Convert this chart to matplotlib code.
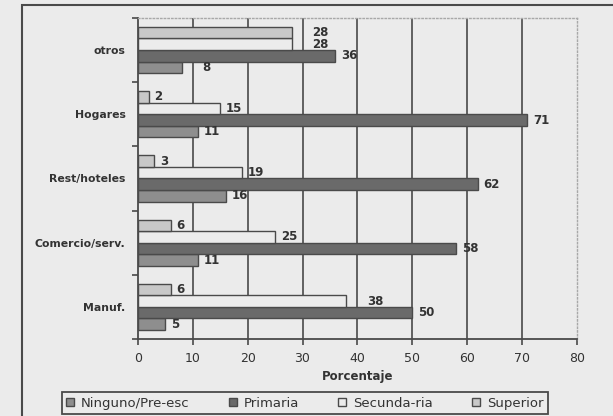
import matplotlib
matplotlib.use("Agg")
import matplotlib.pyplot as plt
from matplotlib.patches import Rectangle

# datos
sectores = ['Manuf.', 'Comercio/serv.', 'Rest/hoteles', 'Hogares', 'otros']
ninguno = [5, 11, 16, 11, 8]
primaria = [50, 58, 62, 71, 36]
secundaria = [38, 25, 19, 15, 28]
superior = [6, 6, 3, 2, 28]
nombres = ['Ninguno/Pre-esc', 'Primaria', 'Secunda-ria', 'Superior']
xticks = [0, 10, 20, 30, 40, 50, 60, 70, 80]

colores = ['#8e8e8e', '#6a6a6a', '#ececec', '#c8c8c8']
fondo = '#ebebeb'
borde = '#4a4a4a'

# etiquetas que en el original quedan mas lejos de la barra
lejos = {(0, 2), (4, 2), (4, 3), (4, 0)}

fig = plt.figure(figsize=(6.13, 4.16), dpi=100, facecolor=fondo)
ax = fig.add_axes([0.225, 0.185, 0.716, 0.772])
ax.set_facecolor(fondo)

h = 0.18
series = [ninguno, primaria, secundaria, superior]
for k, vals in enumerate(series):
    pos = [i + (k - 1.5) * h for i in range(len(sectores))]
    ax.barh(pos, vals, height=h, color=colores[k], edgecolor=borde,
            linewidth=1.0, label=nombres[k], zorder=3)
    for i, v in enumerate(vals):
        dx = 15 if (i, k) in lejos else 4
        ax.annotate(str(v), (v, pos[i]), xytext=(dx, 0), textcoords='offset points',
                    va='center', ha='left', fontsize=8.5, fontweight='bold',
                    color='#333333', zorder=4)

ax.set_xlim(0, 80)
ax.set_ylim(-0.5, 4.5)
ax.set_xticks(xticks)
ax.set_xticklabels([str(t) for t in xticks], fontsize=9, color='#333333')
ax.set_yticks(range(len(sectores)))
ax.set_yticklabels(sectores, fontsize=7.8, fontweight='bold', color='#333333')
ax.tick_params(axis='y', which='major', length=0, pad=9)
ax.set_yticks([i - 0.5 for i in range(len(sectores) + 1)], minor=True)
ax.tick_params(axis='y', which='minor', length=4, width=1.2, color=borde)
ax.tick_params(axis='x', length=4, width=1.2, color=borde, pad=5)

for x in xticks[1:-1]:
    ax.axvline(x, color=borde, lw=1.2, zorder=1)

for s in ['left', 'bottom']:
    ax.spines[s].set_color(borde)
    ax.spines[s].set_linewidth(1.3)
for s in ['top', 'right']:
    ax.spines[s].set_color('#a8a8a8')
    ax.spines[s].set_linestyle(':')
    ax.spines[s].set_linewidth(1.0)

ax.set_xlabel('Porcentaje', fontsize=8.5, fontweight='bold', color='#333333', labelpad=4)

leg = fig.legend(loc='center', bbox_to_anchor=(0.497, 0.031), ncol=4, fontsize=9.5,
                 frameon=True, fancybox=False, edgecolor=borde, facecolor=fondo,
                 handlelength=0.6, handleheight=0.6, handletextpad=0.5,
                 columnspacing=3.0, borderpad=0.35, borderaxespad=0, framealpha=1)
leg._legend_box.sep = 0
leg.get_frame().set_linewidth(1.3)
for t in leg.get_texts():
    t.set_color('#333333')

fig.add_artist(Rectangle((22 / 613, -0.05), 1.0, (416 - 5) / 416 + 0.05,
                         transform=fig.transFigure, fill=False, ec=borde,
                         lw=1.5, clip_on=False))

fig.savefig('out.png', dpi=100, facecolor=fondo)
